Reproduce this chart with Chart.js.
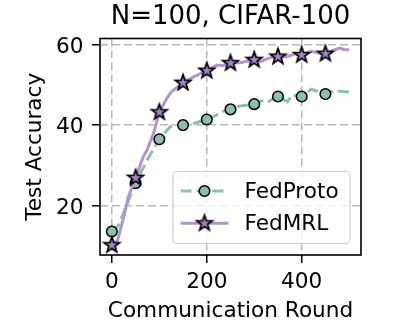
<!DOCTYPE html>
<html>
<head>
<meta charset="utf-8">
<title>N=100, CIFAR-100</title>
<script src="https://cdn.jsdelivr.net/npm/chart.js@4.4.1/dist/chart.umd.min.js"></script>
<style>
  html, body { margin: 0; padding: 0; background: #fff; }
  #wrap { width: 402px; height: 321px; }
</style>
</head>
<body>
<div id="wrap"><canvas id="chart" width="402" height="321"></canvas></div>
<script>
// FedProto test accuracy per communication round
const protoRounds = [0, 14, 50, 74, 100, 123, 150, 172, 200, 221, 228, 250, 262, 300, 320, 330, 350, 370, 380, 400, 420, 435, 450, 470, 500];
const protoAcc    = [13.6, 15.1, 25.6, 31.3, 36.5, 39.6, 40.0, 40.4, 41.4, 42.5, 43.3, 43.9, 44.6, 45.2, 46.2, 45.9, 47.1, 45.8, 47.5, 47.1, 48.9, 48.3, 47.7, 48.5, 48.2];

// FedMRL test accuracy per communication round
const mrlRounds = [0, 12, 25, 35, 50, 66, 74, 88, 100, 116, 126, 150, 172, 200, 221, 235, 250, 270, 300, 315, 330, 350, 370, 385, 400, 420, 435, 450, 465, 480, 490, 500];
const mrlAcc    = [10.2, 11.4, 17.2, 22.2, 26.9, 32.1, 33.8, 38.0, 43.2, 46.7, 48.3, 50.5, 52.0, 53.5, 54.9, 54.8, 55.4, 55.5, 56.2, 55.8, 56.6, 57.0, 57.0, 57.7, 57.4, 58.3, 57.9, 57.7, 58.5, 59.1, 58.7, 58.7];

// rounds that get a marker, and axis ticks
const markerRounds = [0, 50, 100, 150, 200, 250, 300, 350, 400, 450];
const xTicks = [0, 200, 400];
const yTicks = [20, 40, 60];

const GREEN = '#8bc1ab';
const PURPLE = '#a683ca';
const PURPLE_LINE = '#b394d3';
const FONT = 'DejaVu Sans';
const TXT = 21.6;

function series(rounds, acc) {
  return rounds.map((r, i) => ({ x: r, y: acc[i] }));
}
function atMarkers(rounds, acc) {
  return series(rounds, acc).filter(p => markerRounds.includes(p.x));
}

// filled five-point star with a black outline
function makeStar(outer, inner, fill) {
  const size = 22;
  const c = document.createElement('canvas');
  c.width = size; c.height = size;
  const g = c.getContext('2d');
  g.translate(size / 2, size / 2);
  g.beginPath();
  for (let i = 0; i < 10; i++) {
    const r = i % 2 ? inner : outer;
    const a = -Math.PI / 2 + i * Math.PI / 5;
    g.lineTo(r * Math.cos(a), r * Math.sin(a));
  }
  g.closePath();
  g.fillStyle = fill;
  g.fill();
  g.lineWidth = 1.7;
  g.lineJoin = 'miter';
  g.strokeStyle = '#000';
  g.stroke();
  return c;
}
const star = makeStar(8.2, 3.3, PURPLE);

// black frame around the plot area
const framePlugin = {
  id: 'frame',
  afterDatasetsDraw(chart) {
    const { ctx, chartArea: a } = chart;
    ctx.save();
    ctx.lineWidth = 1.6;
    ctx.strokeStyle = '#000';
    ctx.strokeRect(a.left, a.top, a.right - a.left, a.bottom - a.top);
    ctx.restore();
  }
};

// legend box in the lower right: line sample with the marker on it
const legendPlugin = {
  id: 'boxLegend',
  afterDraw(chart) {
    const { ctx, chartArea: a } = chart;
    const w = 177, h = 72;
    const x0 = a.right - 11 - w, y0 = a.bottom - 11.5 - h;
    ctx.save();
    ctx.beginPath();
    ctx.roundRect(x0, y0, w, h, 4);
    ctx.fillStyle = 'rgba(255,255,255,0.8)';
    ctx.fill();
    ctx.lineWidth = 1.2;
    ctx.strokeStyle = '#cccccc';
    ctx.stroke();

    const entries = [
      { label: 'FedProto', color: GREEN, dash: [11, 5], marker: 'circle' },
      { label: 'FedMRL', color: PURPLE_LINE, dash: [], marker: 'star' }
    ];
    entries.forEach((e, i) => {
      const cy = y0 + 19.5 + i * 32.3;
      const mx = x0 + 31.5;
      ctx.setLineDash(e.dash);
      ctx.lineWidth = 3;
      ctx.strokeStyle = e.color;
      ctx.beginPath();
      ctx.moveTo(x0 + 7.5, cy);
      ctx.lineTo(x0 + 55.5, cy);
      ctx.stroke();
      ctx.setLineDash([]);
      if (e.marker === 'circle') {
        ctx.beginPath();
        ctx.arc(mx, cy, 5.3, 0, Math.PI * 2);
        ctx.fillStyle = GREEN;
        ctx.fill();
        ctx.lineWidth = 1.5;
        ctx.strokeStyle = '#000';
        ctx.stroke();
      } else {
        ctx.drawImage(star, mx - star.width / 2, cy - star.height / 2);
      }
      ctx.fillStyle = '#000';
      ctx.font = `${TXT}px "${FONT}"`;
      ctx.textBaseline = 'middle';
      ctx.textAlign = 'left';
      ctx.fillText(e.label, x0 + 71.5, cy + 1.5);
    });
    ctx.restore();
  }
};

const gridOpts = {
  color: '#b8b8b8',
  lineWidth: 1.5,
  drawTicks: true,
  tickLength: 8,
  tickColor: '#000',
  tickWidth: 1.5
};

new Chart(document.getElementById('chart'), {
  type: 'line',
  data: {
    datasets: [
      {
        label: 'FedMRL',
        data: atMarkers(mrlRounds, mrlAcc),
        showLine: false,
        pointStyle: star,
        pointRadius: 8,
        clip: false
      },
      {
        label: 'FedMRL line',
        data: series(mrlRounds, mrlAcc),
        borderColor: PURPLE_LINE,
        borderWidth: 3,
        pointRadius: 0,
        tension: 0,
        fill: false
      },
      {
        label: 'FedProto',
        data: atMarkers(protoRounds, protoAcc),
        showLine: false,
        pointStyle: 'circle',
        pointRadius: 5.3,
        pointBackgroundColor: GREEN,
        pointBorderColor: '#000',
        pointBorderWidth: 1.5,
        clip: false
      },
      {
        label: 'FedProto line',
        data: series(protoRounds, protoAcc),
        borderColor: GREEN,
        borderWidth: 3,
        borderDash: [11, 5],
        pointRadius: 0,
        tension: 0,
        fill: false
      }
    ]
  },
  options: {
    responsive: false,
    animation: false,
    devicePixelRatio: 1,
    layout: { padding: { left: 0, right: 41, top: 0, bottom: 0 } },
    plugins: {
      legend: { display: false },
      tooltip: { enabled: false },
      title: {
        display: true,
        text: 'N=100, CIFAR-100',
        fullSize: false,
        color: '#000',
        font: { family: FONT, size: 26, weight: 'normal', lineHeight: 1.2 },
        padding: { top: 2, bottom: 5.3 }
      }
    },
    scales: {
      x: {
        type: 'linear',
        min: -25,
        max: 525,
        afterFit: s => { s.height = 66; },
        afterBuildTicks: s => { s.ticks = xTicks.map(v => ({ value: v })); },
        grid: gridOpts,
        border: { display: false, dash: [8, 4] },
        ticks: {
          color: '#000',
          padding: 6,
          maxRotation: 0,
          font: { family: FONT, size: TXT, lineHeight: 1.2 }
        },
        title: {
          display: true,
          text: 'Communication Round',
          color: '#000',
          font: { family: FONT, size: TXT, lineHeight: 0.9 },
          padding: { top: 0, bottom: 0.3 }
        }
      },
      y: {
        type: 'linear',
        min: 7.75,
        max: 61.5,
        afterFit: s => { s.width = 100; },
        afterBuildTicks: s => { s.ticks = yTicks.map(v => ({ value: v })); },
        grid: gridOpts,
        border: { display: false, dash: [8, 4] },
        ticks: {
          color: '#000',
          padding: 8.5,
          labelOffset: 2.5,
          font: { family: FONT, size: TXT, lineHeight: 1.2 }
        },
        title: {
          display: true,
          text: 'Test Accuracy',
          color: '#000',
          font: { family: FONT, size: TXT, lineHeight: 1.2 },
          padding: { top: 22.2, bottom: 0 }
        }
      }
    }
  },
  plugins: [framePlugin, legendPlugin]
});
</script>
</body>
</html>
